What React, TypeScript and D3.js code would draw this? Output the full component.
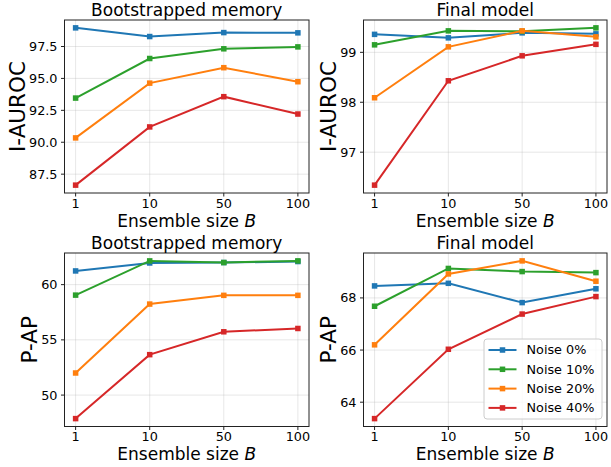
import React from "react";
import * as d3 from "d3";

const ensembleSizes = ["1", "10", "50", "100"];
const seriesNames = ["Noise 0%", "Noise 10%", "Noise 20%", "Noise 40%"];
const seriesColors = ["#1f77b4", "#2ca02c", "#ff7f0e", "#d62728"];

// Bootstrapped memory, I-AUROC
const bmAuroc0 = [98.96, 98.28, 98.59, 98.57];
const bmAuroc10 = [93.46, 96.56, 97.32, 97.47];
const bmAuroc20 = [90.34, 94.63, 95.84, 94.74];
const bmAuroc40 = [86.64, 91.2, 93.57, 92.21];
// Final model, I-AUROC
const fmAuroc0 = [99.36, 99.29, 99.39, 99.37];
const fmAuroc10 = [99.15, 99.43, 99.42, 99.49];
const fmAuroc20 = [98.09, 99.11, 99.43, 99.31];
const fmAuroc40 = [96.34, 98.43, 98.93, 99.16];
// Bootstrapped memory, P-AP
const bmPap0 = [61.24, 61.96, 62.0, 62.09];
const bmPap10 = [59.05, 62.15, 62.0, 62.15];
const bmPap20 = [52.0, 58.24, 59.03, 59.03];
const bmPap40 = [47.87, 53.66, 55.73, 56.03];
// Final model, P-AP
const fmPap0 = [68.46, 68.56, 67.82, 68.35];
const fmPap10 = [67.68, 69.13, 69.01, 68.97];
const fmPap20 = [66.2, 68.92, 69.42, 68.64];
const fmPap40 = [63.37, 66.03, 67.38, 68.05];

const ticksBmAuroc = [87.5, 90, 92.5, 95, 97.5];
const ticksFmAuroc = [97, 98, 99];
const ticksBmPap = [50, 55, 60];
const ticksFmPap = [64, 66, 68];

const FONT = "DejaVu Sans, sans-serif";
const TICK_FS = 12.8;

function labelWidth(s: string) {
  let w = 0;
  for (const ch of s) w += ch === "." ? 0.318 : 0.636;
  return w * TICK_FS;
}

type PanelProps = {
  x0: number; x1: number; y0: number; y1: number;
  title: string; ylabel: string; series: number[][]; ticks: number[];
  fmt: string; legend?: boolean;
};

function Panel({ x0, x1, y0, y1, title, ylabel, series, ticks, fmt, legend }: PanelProps) {
  const all = series.flat();
  const mn = d3.min(all)!, mx = d3.max(all)!;
  const pad = (mx - mn) * 0.05;
  const xs = d3.scaleLinear().domain([-0.15, 3.15]).range([x0, x1]);
  const ys = d3.scaleLinear().domain([mn - pad, mx + pad]).range([y1, y0]);
  const line = d3.line<number>().x((_, i) => xs(i)).y((v) => ys(v));
  const f = d3.format(fmt);
  const cx = (x0 + x1) / 2;
  const maxW = d3.max(ticks, (t) => labelWidth(f(t)))!;
  const labelX = x0 - 7 - maxW - 4;
  const ms = 5.5;
  const lgW = 118, lgH = 80;
  const lgX = x1 - 5 - lgW, lgY = y1 - 7.5 - lgH;
  return (
    <g>
      {ticks.map((t) => (
        <line key={"gy" + t} x1={x0} x2={x1} y1={ys(t)} y2={ys(t)} stroke="#b0b0b0" strokeOpacity={0.3} strokeWidth={1} />
      ))}
      {ensembleSizes.map((_, i) => (
        <line key={"gx" + i} x1={xs(i)} x2={xs(i)} y1={y0} y2={y1} stroke="#b0b0b0" strokeOpacity={0.3} strokeWidth={1} />
      ))}
      {series.map((s, k) => (
        <g key={"s" + k}>
          <path d={line(s)!} fill="none" stroke={seriesColors[k]} strokeWidth={2} />
          {s.map((v, i) => (
            <rect key={i} x={xs(i) - ms / 2} y={ys(v) - ms / 2} width={ms} height={ms} fill={seriesColors[k]} />
          ))}
        </g>
      ))}
      <rect x={x0} y={y0} width={x1 - x0} height={y1 - y0} fill="none" stroke="#222" strokeWidth={1} />
      {ticks.map((t) => (
        <g key={"ty" + t}>
          <line x1={x0 - 3.5} x2={x0} y1={ys(t)} y2={ys(t)} stroke="#222" strokeWidth={1} />
          <text x={x0 - 7} y={ys(t)} dy="0.35em" textAnchor="end" fontSize={TICK_FS} fontFamily={FONT} fill="#000">{f(t)}</text>
        </g>
      ))}
      {ensembleSizes.map((c, i) => (
        <g key={"tx" + i}>
          <line x1={xs(i)} x2={xs(i)} y1={y1} y2={y1 + 3.5} stroke="#222" strokeWidth={1} />
          <text x={xs(i)} y={y1 + 14.5} textAnchor="middle" fontSize={TICK_FS} fontFamily={FONT} fill="#000">{c}</text>
        </g>
      ))}
      <text x={cx} y={y0 - 4} textAnchor="middle" fontSize={17} fontFamily={FONT} fill="#000">{title}</text>
      <text x={cx} y={y1 + 33.5} textAnchor="middle" fontSize={17} fontFamily={FONT} fill="#000">
        Ensemble size <tspan fontStyle="italic">B</tspan>
      </text>
      <text transform={`translate(${labelX},${(y0 + y1) / 2}) rotate(-90)`} textAnchor="middle" fontSize={21.5} fontFamily={FONT} fill="#000">{ylabel}</text>
      {legend && (
        <g>
          <rect x={lgX} y={lgY} width={lgW} height={lgH} rx={3} fill="#fff" fillOpacity={0.8} stroke="#cccccc" strokeWidth={1} />
          {seriesNames.map((n, k) => {
            const yy = lgY + 11 + k * 19.3;
            return (
              <g key={"lg" + k}>
                <line x1={lgX + 4.5} x2={lgX + 32.5} y1={yy} y2={yy} stroke={seriesColors[k]} strokeWidth={2} />
                <rect x={lgX + 18.5 - ms / 2} y={yy - ms / 2} width={ms} height={ms} fill={seriesColors[k]} />
                <text x={lgX + 42.5} y={yy} dy="0.35em" fontSize={TICK_FS} fontFamily={FONT} fill="#000">{n}</text>
              </g>
            );
          })}
        </g>
      )}
    </g>
  );
}

export default function App() {
  return (
    <svg width={611} height={467} style={{ position: "absolute", left: 0, top: 0, background: "#fff" }}>
      <Panel x0={64.5} x1={309} y0={20} y1={193} title="Bootstrapped memory" ylabel="I-AUROC"
        series={[bmAuroc0, bmAuroc10, bmAuroc20, bmAuroc40]} ticks={ticksBmAuroc} fmt=".1f" />
      <Panel x0={363.5} x1={607} y0={20} y1={193} title="Final model" ylabel="I-AUROC"
        series={[fmAuroc0, fmAuroc10, fmAuroc20, fmAuroc40]} ticks={ticksFmAuroc} fmt="d" />
      <Panel x0={64.5} x1={309} y0={253} y1={426.5} title="Bootstrapped memory" ylabel="P-AP"
        series={[bmPap0, bmPap10, bmPap20, bmPap40]} ticks={ticksBmPap} fmt="d" />
      <Panel x0={363.5} x1={607} y0={253} y1={426.5} title="Final model" ylabel="P-AP"
        series={[fmPap0, fmPap10, fmPap20, fmPap40]} ticks={ticksFmPap} fmt="d" legend />
    </svg>
  );
}
